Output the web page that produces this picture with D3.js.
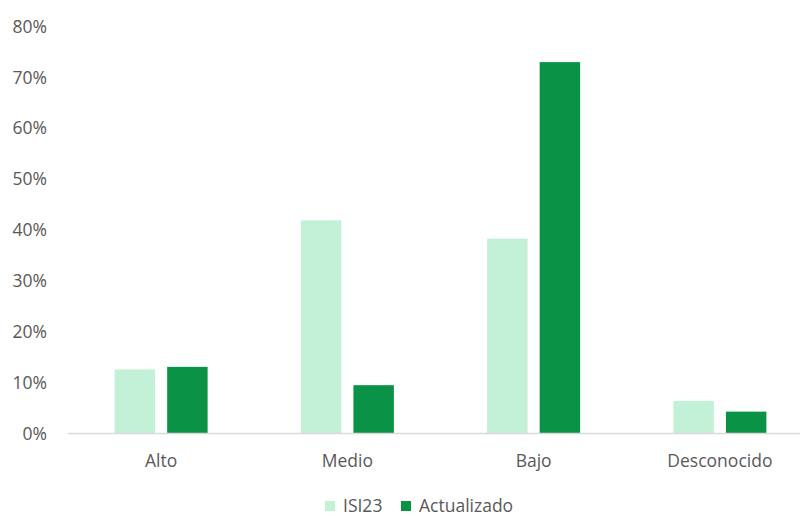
<!DOCTYPE html>
<html>
<head>
<meta charset="utf-8">
<script src="https://cdn.jsdelivr.net/npm/d3@7"></script>
<style>
  body { margin: 0; background: #fff; }
  svg { display: block; }
  text { font-family: "Open Sans", "Liberation Sans", sans-serif; fill: #595959; }
</style>
</head>
<body>
<svg id="chart" width="800" height="516"></svg>
<script>
const categories = ["Alto", "Medio", "Bajo", "Desconocido"];
const seriesNames = ["ISI23", "Actualizado"];
const isi23 = [12.5, 41.8, 38.2, 6.3];
const actualizado = [13.0, 9.4, 72.9, 4.2];
const yTicks = [0, 10, 20, 30, 40, 50, 60, 70, 80];
const colors = ["#c3f1d7", "#0a9346"];

const svg = d3.select("#chart");
const plotLeft = 68, plotRight = 813, plotTop = 26, plotBottom = 433;
const fontSize = "17.5px";

const x = d3.scaleBand().domain(categories).range([plotLeft, plotRight]).paddingInner(0).paddingOuter(0);
const y = d3.scaleLinear().domain([0, 80]).range([plotBottom, plotTop]);
const groupW = 93;
const x1 = d3.scaleBand().domain(seriesNames).range([0, groupW]).paddingInner(0.23).paddingOuter(0);

const rows = categories.map((c, i) => ({ cat: c, vals: [isi23[i], actualizado[i]] }));

const g = svg.append("g");
g.selectAll("g.cat")
  .data(rows)
  .join("g")
  .attr("class", "cat")
  .attr("transform", d => `translate(${x(d.cat) + (x.bandwidth() - groupW) / 2},0)`)
  .selectAll("rect")
  .data(d => d.vals.map((v, k) => ({ s: seriesNames[k], v, k })))
  .join("rect")
  .attr("x", d => x1(d.s))
  .attr("width", x1.bandwidth())
  .attr("y", d => y(d.v))
  .attr("height", d => y(0) - y(d.v))
  .attr("fill", d => colors[d.k]);

// baseline
svg.append("line")
  .attr("x1", plotLeft).attr("x2", 800)
  .attr("y1", y(0) + 0.5).attr("y2", y(0) + 0.5)
  .attr("stroke", "#d9d9d9").attr("stroke-width", 1.5);

// y axis labels
const yAxis = d3.axisLeft(y).tickValues(yTicks).tickFormat(d => d + "%").tickSize(0).tickPadding(0);
const ya = svg.append("g").attr("transform", `translate(47,0)`).call(yAxis);
ya.select(".domain").remove();
ya.selectAll("text").style("font-size", fontSize).attr("fill", "#595959").attr("dy", "0.35em");

// x axis labels
const xAxis = d3.axisBottom(x).tickSize(0).tickPadding(0);
const xa = svg.append("g").attr("transform", `translate(0,${plotBottom + 28})`).call(xAxis);
xa.select(".domain").remove();
xa.selectAll("text").style("font-size", fontSize).attr("fill", "#595959").attr("y", 0).attr("dy", "0.35em");

// legend
const legend = svg.append("g").attr("transform", "translate(0,506)");
const items = [{ name: seriesNames[0], x: 325 }, { name: seriesNames[1], x: 401 }];
items.forEach((it, k) => {
  legend.append("rect").attr("x", it.x).attr("y", -5).attr("width", 10).attr("height", 10).attr("fill", colors[k]);
  legend.append("text").attr("x", it.x + 18).attr("y", 0).attr("dy", "0.35em")
    .style("font-size", fontSize).text(it.name);
});
</script>
</body>
</html>
